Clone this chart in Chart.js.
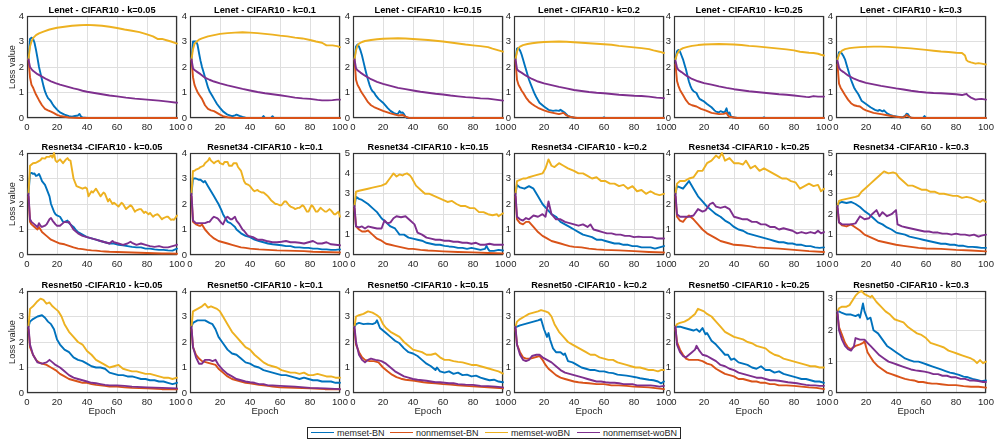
<!DOCTYPE html>
<html><head><meta charset="utf-8">
<script src="https://cdn.jsdelivr.net/npm/chart.js@4/dist/chart.umd.min.js"></script>
<style>
html,body{margin:0;padding:0;background:#fff;width:1001px;height:445px;overflow:hidden;}
#wrap{position:relative;width:1001px;height:445px;}
#wrap canvas{position:absolute;}
#legend{position:absolute;left:307px;top:427px;width:372px;height:10px;border:1px solid #262626;background:#fff;font-family:'Liberation Sans',Arial,sans-serif;font-size:9px;color:#262626;}
.li{position:absolute;top:0;height:10px;line-height:10px;white-space:nowrap;}
.sw{display:inline-block;width:23px;height:0;border-top:1.8px solid;vertical-align:middle;margin-right:3px;position:relative;top:-1px;}
</style></head><body>
<div id="wrap"><div id="legend"></div></div>
<script>
// ---------- series names / colors ----------
const SERIES_NAMES = ['memset-BN','nonmemset-BN','memset-woBN','nonmemset-woBN'];
const COLORS = ['#0072BD','#D95319','#EDB120','#7E2F8E'];
const K_LABELS = ['0.05','0.1','0.15','0.2','0.25','0.3'];
const ROW_TITLES = ['Lenet - CIFAR10 - k=','Resnet34 -CIFAR10 - k=','Resnet50 -CIFAR10 - k='];
const Y_MAX = [4,4,4,4,4,4, 4,4,5,4,4,5, 4,4,4,4,4,3.25];
const X_TICK_STEP = 20;

// ---------- Lenet ----------
const len005_mBN=[[1,2.3],[2,3.1],[3,3.15],[4,3.12],[5,2.95],[6,2.67],[7,2.35],[8,2.0],[9,1.75],[10,1.5],[11,1.25],[12,1.04],[13,0.9],[14,0.78],[15,0.72],[16,0.65],[17,0.55],[18,0.46],[19,0.4],[20,0.33],[22,0.22],[25,0.13],[28,0.07],[30,0.05],[32,0.08],[34,0.1],[35,0.16],[36,0.06],[37,0.02],[40,0],[100,0]];
const len005_nBN=[[1,2.3],[2,1.6],[3,1.3],[4,1.2],[5,1.05],[6,0.92],[8,0.7],[10,0.5],[12,0.36],[14,0.3],[16,0.25],[18,0.19],[20,0.12],[22,0.08],[25,0.05],[28,0.02],[31,0.01],[35,0],[100,0]];
const len005_mWo=[[1,2.3],[2,2.8],[3,3.0],[4,3.13],[6,3.25],[8,3.32],[11,3.39],[15,3.47],[20,3.54],[25,3.58],[30,3.62],[35,3.64],[40,3.65],[45,3.64],[50,3.62],[55,3.58],[60,3.53],[65,3.47],[70,3.42],[75,3.37],[80,3.28],[84,3.2],[87,3.1],[90,3.1],[93,3.05],[96,3.0],[100,2.92]];
const len005_nWo=[[1,2.3],[2,2.0],[3,1.92],[4,1.85],[7,1.72],[10,1.62],[13,1.52],[16,1.44],[19,1.37],[22,1.31],[25,1.26],[28,1.21],[31,1.16],[34,1.12],[37,1.07],[40,1.03],[45,0.98],[50,0.93],[55,0.88],[60,0.85],[66,0.8],[72,0.76],[80,0.72],[88,0.68],[94,0.64],[100,0.6]];

const len01_mBN=[[1,2.3],[2,3.0],[3,3.0],[4,3.0],[5,2.88],[6,2.55],[7,2.25],[8,2.0],[9,1.8],[10,1.6],[11,1.4],[12,1.2],[13,1.05],[14,0.95],[15,0.85],[16,0.75],[18,0.55],[20,0.4],[22,0.26],[25,0.13],[28,0.07],[30,0.1],[31,0.13],[33,0.08],[35,0.04],[37,0.01],[40,0],[48,0],[49,0.08],[50,0],[54,0],[55,0.07],[56,0],[100,0]];
const len01_nBN=[[1,2.3],[2,1.6],[3,1.3],[4,1.15],[5,1.02],[6,0.92],[8,0.75],[10,0.5],[12,0.36],[14,0.3],[16,0.27],[18,0.2],[20,0.13],[22,0.07],[25,0.03],[28,0.01],[32,0],[100,0]];
const len01_mWo=[[1,2.3],[2,2.7],[3,2.9],[4,2.98],[6,3.07],[8,3.12],[12,3.2],[16,3.25],[20,3.3],[25,3.33],[30,3.35],[35,3.36],[40,3.35],[45,3.33],[50,3.3],[55,3.27],[60,3.23],[65,3.2],[70,3.15],[75,3.12],[80,3.06],[84,3.0],[88,2.95],[91,2.85],[95,2.85],[98,2.82],[100,2.78]];
const len01_nWo=[[1,2.3],[2,1.95],[3,1.88],[5,1.8],[7,1.72],[10,1.58],[13,1.5],[16,1.43],[20,1.36],[25,1.28],[30,1.21],[35,1.14],[40,1.08],[45,1.02],[50,0.97],[55,0.93],[60,0.89],[65,0.85],[70,0.8],[75,0.77],[80,0.75],[85,0.71],[88,0.69],[92,0.69],[95,0.7],[98,0.72],[100,0.72]];

const len015_mBN=[[1,2.3],[2,2.8],[3,2.88],[4,2.8],[5,2.65],[6,2.45],[7,2.2],[8,1.95],[9,1.72],[10,1.5],[11,1.3],[12,1.15],[13,1.05],[14,1.0],[15,0.9],[17,0.75],[20,0.6],[23,0.4],[25,0.28],[27,0.2],[29,0.15],[30,0.17],[31,0.27],[32,0.2],[33,0.22],[34,0.15],[35,0.05],[36,0],[79,0],[80,0.02],[81,0],[100,0]];
const len015_nBN=[[1,2.3],[2,1.5],[3,1.3],[4,1.2],[5,1.08],[6,0.98],[8,0.8],[10,0.62],[12,0.5],[14,0.43],[16,0.38],[18,0.33],[20,0.28],[22,0.24],[25,0.18],[28,0.13],[30,0.1],[33,0.12],[35,0.05],[37,0.01],[40,0],[100,0]];
const len015_mWo=[[1,2.3],[2,2.65],[3,2.85],[4,2.92],[6,2.98],[8,3.02],[12,3.06],[16,3.09],[20,3.11],[25,3.12],[30,3.13],[35,3.12],[40,3.1],[45,3.08],[50,3.06],[55,3.03],[60,3.0],[65,2.96],[70,2.92],[75,2.88],[80,2.85],[85,2.82],[90,2.78],[93,2.72],[97,2.65],[100,2.6]];
const len015_nWo=[[1,2.3],[2,1.95],[3,1.87],[5,1.78],[8,1.66],[12,1.52],[16,1.42],[20,1.34],[25,1.26],[30,1.18],[35,1.13],[40,1.08],[45,1.03],[50,0.99],[55,0.95],[60,0.92],[65,0.88],[70,0.85],[75,0.82],[80,0.8],[85,0.77],[90,0.76],[95,0.72],[100,0.68]];

const len02_mBN=[[1,2.3],[2,2.72],[3,2.75],[4,2.65],[5,2.5],[6,2.3],[7,2.1],[8,1.9],[9,1.7],[10,1.5],[11,1.35],[12,1.2],[13,1.05],[14,0.92],[15,0.8],[17,0.6],[20,0.45],[23,0.32],[26,0.28],[28,0.3],[30,0.28],[31,0.32],[32,0.28],[34,0.2],[36,0.08],[38,0.04],[40,0.01],[42,0],[59,0],[60,0.03],[61,0],[100,0]];
const len02_nBN=[[1,2.25],[2,1.5],[3,1.3],[4,1.2],[5,1.08],[6,1.0],[8,0.8],[10,0.65],[12,0.55],[14,0.47],[16,0.4],[18,0.35],[20,0.3],[23,0.24],[26,0.2],[30,0.15],[33,0.2],[35,0.1],[37,0.05],[40,0.02],[42,0],[100,0]];
const len02_mWo=[[1,2.3],[2,2.6],[3,2.75],[4,2.8],[6,2.86],[9,2.9],[12,2.93],[16,2.96],[20,2.98],[25,2.99],[30,3.0],[35,2.99],[40,2.97],[45,2.95],[50,2.93],[55,2.91],[60,2.89],[65,2.87],[70,2.83],[75,2.8],[80,2.77],[85,2.74],[90,2.7],[93,2.65],[97,2.6],[100,2.55]];
const len02_nWo=[[1,2.3],[2,1.92],[3,1.85],[5,1.78],[8,1.66],[12,1.53],[16,1.43],[20,1.36],[25,1.29],[30,1.22],[35,1.16],[40,1.1],[45,1.06],[50,1.02],[55,0.99],[60,0.97],[65,0.94],[70,0.91],[75,0.89],[80,0.87],[85,0.86],[90,0.84],[95,0.8],[100,0.78]];

const len025_mBN=[[1,2.3],[2,2.62],[3,2.67],[4,2.6],[5,2.45],[6,2.3],[7,2.1],[8,1.9],[9,1.65],[10,1.42],[11,1.25],[12,1.12],[13,1.05],[15,0.98],[16,0.85],[17,0.75],[19,0.68],[20,0.65],[22,0.55],[25,0.42],[27,0.3],[28,0.25],[30,0.22],[31,0.27],[33,0.22],[34,0.25],[35,0.38],[36,0.15],[37,0.22],[38,0.05],[40,0.02],[42,0],[59,0],[60,0.03],[61,0],[100,0]];
const len025_nBN=[[1,2.1],[2,1.45],[3,1.25],[4,1.1],[5,1.0],[6,0.9],[8,0.7],[10,0.55],[12,0.5],[15,0.45],[18,0.36],[21,0.3],[25,0.2],[30,0.15],[33,0.16],[35,0.2],[36,0.1],[37,0.05],[40,0.02],[42,0],[100,0]];
const len025_mWo=[[1,2.3],[2,2.5],[3,2.6],[4,2.67],[6,2.74],[9,2.79],[12,2.83],[16,2.86],[20,2.88],[25,2.89],[30,2.9],[35,2.89],[40,2.88],[45,2.86],[50,2.83],[55,2.81],[60,2.78],[65,2.75],[70,2.72],[75,2.69],[80,2.65],[84,2.6],[87,2.58],[90,2.56],[93,2.55],[96,2.52],[98,2.48],[100,2.45]];
const len025_nWo=[[1,2.25],[2,1.97],[3,1.88],[5,1.8],[8,1.67],[12,1.53],[16,1.44],[20,1.37],[25,1.31],[30,1.24],[35,1.18],[40,1.13],[45,1.09],[50,1.05],[55,1.02],[60,0.99],[65,0.96],[70,0.93],[75,0.91],[80,0.88],[85,0.85],[88,0.83],[90,0.82],[93,0.86],[96,0.84],[100,0.84]];

const len03_mBN=[[1,2.3],[2,2.58],[3,2.58],[4,2.52],[5,2.42],[6,2.3],[7,2.1],[8,1.9],[9,1.7],[10,1.5],[11,1.35],[12,1.2],[13,1.1],[15,0.92],[17,0.68],[20,0.55],[23,0.42],[26,0.32],[28,0.28],[29,0.32],[31,0.26],[32,0.3],[34,0.18],[36,0.12],[38,0.08],[41,0.05],[44,0.02],[46,0.08],[47,0.17],[48,0.15],[49,0.05],[50,0.01],[52,0],[58,0],[59,0.08],[60,0],[100,0]];
const len03_nBN=[[1,2.1],[2,1.35],[3,1.2],[4,1.1],[5,1.0],[6,0.9],[8,0.72],[10,0.58],[12,0.5],[14,0.47],[16,0.45],[18,0.36],[20,0.3],[25,0.2],[30,0.15],[35,0.1],[40,0.05],[45,0.02],[46,0.06],[47,0.12],[48,0.08],[50,0.01],[52,0],[100,0]];
const len03_mWo=[[1,2.3],[2,2.48],[3,2.58],[4,2.64],[6,2.7],[9,2.74],[12,2.76],[16,2.78],[20,2.79],[25,2.8],[30,2.8],[35,2.79],[40,2.77],[45,2.75],[50,2.73],[55,2.7],[60,2.67],[65,2.64],[70,2.61],[75,2.59],[80,2.56],[84,2.55],[85,2.5],[86,2.45],[87,2.27],[88,2.22],[90,2.18],[93,2.13],[95,2.15],[97,2.13],[100,2.1]];
const len03_nWo=[[1,2.25],[2,1.97],[3,1.88],[5,1.8],[8,1.67],[12,1.54],[16,1.45],[20,1.38],[25,1.32],[30,1.26],[35,1.21],[40,1.16],[45,1.12],[50,1.07],[55,1.03],[60,1.0],[65,0.98],[70,0.97],[75,0.95],[80,0.93],[84,0.9],[86,0.93],[87,0.95],[88,0.88],[90,0.8],[93,0.72],[95,0.74],[97,0.75],[100,0.72]];

// ---------- Resnet34 ----------
const r34_005_mBN=[[1,2.4],[2,3.2],[3,3.22],[4,3.18],[5,3.2],[6,3.1],[7,3.12],[8,3.18],[9,3.05],[10,2.9],[12,2.75],[13,2.6],[15,2.3],[16,2.0],[18,1.7],[19,1.6],[20,1.55],[22,1.5],[24,1.3],[25,1.3],[27,1.35],[28,1.25],[30,1.15],[31,1.1],[33,0.95],[34,0.9],[37,0.8],[40,0.7],[43,0.65],[46,0.6],[49,0.55],[52,0.5],[55,0.45],[58,0.45],[61,0.4],[64,0.38],[67,0.35],[70,0.32],[73,0.3],[76,0.3],[79,0.25],[82,0.25],[85,0.22],[88,0.2],[91,0.2],[94,0.18],[97,0.17],[100,0.25]];
const r34_005_nBN=[[1,2.3],[2,1.3],[3,1.2],[5,1.1],[7,1.0],[8,1.1],[10,0.9],[13,0.75],[16,0.6],[19,0.52],[22,0.45],[25,0.42],[28,0.36],[31,0.3],[34,0.25],[37,0.23],[40,0.2],[43,0.18],[46,0.17],[49,0.15],[52,0.14],[55,0.13],[60,0.12],[65,0.11],[70,0.1],[75,0.09],[80,0.08],[85,0.07],[90,0.06],[95,0.06],[100,0.05]];
const r34_005_mWo=[[1,2.4],[2,3.5],[3,3.55],[4,3.6],[6,3.62],[7,3.65],[9,3.72],[10,3.8],[12,3.78],[13,3.85],[15,3.85],[16,3.9],[17,3.82],[18,4.0],[19,3.7],[20,3.65],[22,3.75],[24,3.6],[26,3.75],[27,3.8],[28,3.72],[29,3.7],[31,3.0],[33,2.7],[35,2.65],[37,2.6],[39,2.65],[40,2.6],[41,2.3],[43,2.5],[44,2.45],[46,2.6],[48,2.4],[49,2.3],[51,2.45],[52,2.4],[54,2.1],[55,2.2],[57,2.0],[58,2.05],[60,1.95],[61,1.9],[63,2.05],[64,2.0],[66,1.8],[67,1.85],[69,1.95],[70,1.9],[72,1.7],[73,1.75],[75,1.8],[76,1.8],[78,1.65],[79,1.7],[81,1.6],[82,1.65],[84,1.5],[85,1.55],[87,1.6],[88,1.55],[90,1.4],[91,1.45],[93,1.5],[94,1.5],[96,1.38],[97,1.4],[98,1.38],[100,1.55]];
const r34_005_nWo=[[1,2.4],[2,1.4],[3,1.3],[5,1.2],[6,1.15],[7,1.1],[8,1.25],[9,1.15],[10,1.1],[12,1.15],[13,1.2],[15,1.4],[16,1.45],[17,1.35],[19,1.2],[20,1.15],[22,1.15],[24,1.25],[25,1.3],[27,1.28],[28,1.3],[29,1.2],[31,1.0],[33,0.9],[34,0.85],[37,0.75],[40,0.7],[43,0.65],[46,0.6],[49,0.55],[52,0.5],[55,0.45],[57,0.55],[58,0.5],[61,0.45],[64,0.4],[67,0.45],[69,0.52],[70,0.48],[73,0.4],[76,0.45],[79,0.4],[82,0.35],[85,0.32],[88,0.35],[91,0.3],[94,0.3],[97,0.35],[100,0.4]];

const r34_01_mBN=[[1,2.4],[2,3.0],[4,3.0],[6,2.95],[7,2.95],[9,2.85],[10,2.9],[12,2.7],[13,2.6],[15,2.4],[16,2.3],[18,2.1],[19,2.0],[21,1.75],[22,1.6],[24,1.4],[25,1.3],[27,1.25],[28,1.2],[30,1.1],[31,1.0],[33,0.9],[34,0.85],[37,0.75],[40,0.7],[43,0.6],[46,0.55],[49,0.5],[52,0.45],[55,0.42],[58,0.4],[61,0.38],[64,0.35],[67,0.35],[70,0.3],[73,0.3],[76,0.28],[79,0.28],[82,0.25],[85,0.25],[88,0.22],[91,0.22],[94,0.2],[97,0.2],[100,0.22]];
const r34_01_nBN=[[1,2.3],[2,1.3],[4,1.2],[6,1.15],[7,1.15],[8,1.2],[10,1.0],[13,0.8],[16,0.65],[19,0.55],[22,0.5],[25,0.45],[28,0.4],[31,0.35],[34,0.3],[37,0.28],[40,0.25],[46,0.22],[52,0.2],[58,0.18],[64,0.17],[70,0.16],[76,0.15],[82,0.13],[88,0.12],[94,0.11],[100,0.1]];
const r34_01_mWo=[[1,2.4],[2,3.3],[3,3.3],[4,3.35],[6,3.4],[7,3.45],[9,3.5],[10,3.6],[12,3.7],[13,3.8],[14,3.7],[16,3.6],[17,3.65],[19,3.7],[20,3.6],[22,3.55],[23,3.65],[25,3.65],[26,3.5],[28,3.5],[29,3.6],[31,3.6],[32,3.45],[34,3.3],[36,2.9],[37,2.8],[39,2.75],[40,2.7],[42,2.55],[43,2.5],[45,2.55],[46,2.5],[48,2.45],[49,2.45],[51,2.35],[52,2.3],[54,2.15],[55,2.1],[57,2.0],[58,2.0],[60,1.95],[61,1.95],[63,2.1],[64,2.1],[66,1.95],[67,1.9],[69,1.85],[70,1.8],[72,1.85],[73,1.85],[75,1.95],[76,1.9],[78,1.7],[79,1.7],[81,1.95],[82,1.9],[84,1.7],[85,1.7],[87,1.85],[88,1.8],[90,1.7],[91,1.7],[93,1.8],[94,1.75],[96,1.6],[97,1.6],[99,1.7],[100,1.5]];
const r34_01_nWo=[[1,2.4],[2,1.35],[4,1.25],[6,1.25],[7,1.25],[9,1.25],[10,1.25],[12,1.3],[13,1.3],[15,1.45],[16,1.5],[18,1.45],[19,1.4],[21,1.25],[22,1.2],[24,1.45],[25,1.5],[27,1.4],[28,1.4],[30,1.5],[31,1.35],[33,1.2],[35,1.0],[36,0.95],[38,0.8],[39,0.75],[42,0.7],[45,0.6],[48,0.6],[51,0.55],[55,0.5],[58,0.5],[61,0.52],[64,0.55],[67,0.5],[70,0.5],[73,0.48],[76,0.45],[79,0.5],[82,0.55],[85,0.45],[88,0.45],[91,0.5],[94,0.42],[97,0.4],[100,0.38]];

const r34_015_mBN=[[1,2.4],[2,2.85],[4,2.75],[6,2.7],[8,2.6],[10,2.5],[13,2.3],[16,2.1],[19,1.8],[22,1.6],[25,1.4],[28,1.3],[30,1.1],[31,1.0],[34,1.0],[37,0.85],[40,0.8],[43,0.75],[46,0.7],[49,0.6],[52,0.55],[55,0.5],[58,0.5],[61,0.45],[64,0.42],[67,0.4],[70,0.35],[73,0.35],[76,0.3],[79,0.35],[82,0.3],[85,0.25],[88,0.3],[89,0.45],[90,0.3],[91,0.2],[94,0.2],[97,0.25],[100,0.22]];
const r34_015_nBN=[[1,2.3],[2,1.4],[4,1.25],[6,1.15],[8,1.15],[10,1.2],[13,1.0],[16,0.8],[19,0.7],[22,0.55],[25,0.5],[28,0.45],[31,0.4],[34,0.35],[37,0.3],[40,0.3],[45,0.25],[50,0.22],[55,0.2],[60,0.18],[70,0.15],[80,0.13],[90,0.1],[100,0.08]];
const r34_015_mWo=[[1,2.4],[2,3.1],[4,3.15],[7,3.2],[10,3.25],[13,3.3],[16,3.35],[19,3.4],[22,3.5],[24,3.7],[25,3.8],[27,4.0],[29,3.85],[31,3.95],[33,3.9],[34,3.95],[36,4.0],[38,3.9],[39,3.8],[42,3.4],[45,3.2],[48,3.0],[51,3.0],[54,2.9],[57,2.8],[60,2.7],[63,2.6],[66,2.65],[69,2.5],[72,2.4],[75,2.4],[78,2.3],[81,2.3],[84,2.1],[87,2.1],[90,2.0],[93,1.95],[96,2.0],[97,1.9],[100,2.05]];
const r34_015_nWo=[[1,2.4],[2,1.4],[4,1.35],[6,1.4],[8,1.3],[10,1.4],[13,1.35],[16,1.3],[19,1.3],[21,1.7],[23,1.55],[25,1.6],[27,1.8],[29,1.9],[32,1.85],[35,1.9],[38,1.7],[41,1.5],[43,1.1],[46,1.0],[49,0.85],[52,0.8],[55,0.75],[58,0.75],[61,0.7],[64,0.7],[67,0.65],[70,0.65],[73,0.6],[76,0.6],[79,0.55],[82,0.6],[85,0.5],[88,0.5],[91,0.55],[94,0.5],[97,0.5],[100,0.5]];

const r34_02_mBN=[[1,2.4],[2,2.75],[4,2.65],[7,2.6],[10,2.7],[13,2.6],[16,2.3],[19,2.0],[22,1.8],[25,1.6],[28,1.5],[31,1.3],[34,1.2],[37,1.1],[40,1.0],[43,0.9],[46,0.8],[49,0.75],[52,0.7],[55,0.6],[58,0.6],[61,0.55],[64,0.5],[67,0.45],[70,0.45],[73,0.4],[76,0.4],[79,0.35],[82,0.35],[85,0.3],[88,0.3],[91,0.3],[94,0.25],[97,0.3],[100,0.35]];
const r34_02_nBN=[[1,2.3],[2,1.4],[4,1.25],[6,1.2],[8,1.3],[10,1.3],[13,1.1],[16,0.9],[19,0.75],[22,0.65],[25,0.55],[28,0.5],[31,0.45],[34,0.4],[37,0.35],[40,0.32],[45,0.3],[50,0.25],[55,0.22],[60,0.2],[70,0.18],[80,0.15],[90,0.12],[100,0.1]];
const r34_02_mWo=[[1,2.4],[2,2.9],[4,2.95],[6,3.0],[8,3.0],[10,3.05],[13,3.1],[16,3.15],[19,3.2],[21,3.4],[23,3.75],[25,3.5],[27,3.45],[30,3.6],[33,3.5],[36,3.4],[38,3.35],[40,3.3],[43,3.2],[46,3.2],[49,3.1],[52,3.0],[55,3.05],[58,2.9],[61,2.9],[64,2.8],[67,2.8],[70,2.7],[73,2.75],[76,2.6],[79,2.7],[82,2.5],[85,2.55],[88,2.4],[91,2.5],[94,2.4],[97,2.35],[100,2.4]];
const r34_02_nWo=[[1,2.4],[2,1.5],[4,1.4],[6,1.35],[8,1.45],[10,1.4],[13,1.55],[16,1.5],[19,1.6],[21,1.5],[23,2.1],[25,1.6],[28,1.4],[31,1.4],[34,1.3],[37,1.25],[40,1.2],[43,1.15],[46,1.2],[49,1.1],[51,1.2],[53,1.0],[56,0.95],[59,0.9],[62,0.85],[65,0.85],[68,0.8],[71,0.8],[74,0.75],[77,0.75],[80,0.7],[83,0.72],[86,0.7],[89,0.7],[92,0.7],[95,0.65],[98,0.65],[100,0.65]];

const r34_025_mBN=[[1,2.4],[2,2.7],[4,2.65],[6,2.6],[8,2.75],[10,2.9],[13,2.6],[16,2.3],[19,2.1],[22,1.9],[25,1.75],[28,1.6],[31,1.5],[34,1.35],[37,1.25],[40,1.1],[43,1.0],[46,0.95],[49,0.85],[52,0.8],[55,0.75],[58,0.7],[61,0.65],[64,0.6],[67,0.55],[70,0.5],[73,0.5],[76,0.45],[79,0.45],[82,0.4],[85,0.4],[88,0.35],[91,0.35],[94,0.3],[97,0.28],[100,0.3]];
const r34_025_nBN=[[1,2.3],[2,1.5],[4,1.35],[6,1.3],[8,1.45],[10,1.55],[13,1.4],[16,1.2],[19,1.0],[22,0.85],[25,0.75],[28,0.65],[31,0.55],[34,0.5],[37,0.45],[40,0.4],[45,0.38],[50,0.35],[55,0.3],[60,0.28],[70,0.25],[80,0.2],[90,0.15],[100,0.12]];
const r34_025_mWo=[[1,2.4],[2,2.8],[4,2.9],[7,2.9],[10,3.0],[13,3.05],[16,3.3],[19,3.3],[22,3.6],[25,3.7],[28,3.9],[30,3.8],[32,4.0],[34,3.7],[37,3.8],[40,3.6],[43,3.6],[46,3.55],[48,3.7],[51,3.4],[54,3.5],[57,3.3],[60,3.4],[63,3.3],[66,3.2],[69,3.1],[72,3.0],[75,3.0],[78,2.9],[81,2.85],[84,2.6],[87,2.7],[90,2.8],[93,2.7],[96,2.75],[98,2.5],[100,2.6]];
const r34_025_nWo=[[1,2.4],[2,1.6],[4,1.5],[7,1.5],[10,1.5],[13,1.55],[16,1.8],[19,1.7],[21,1.75],[24,2.0],[26,2.05],[28,1.9],[31,1.85],[34,1.9],[37,1.8],[40,1.5],[43,1.45],[46,1.4],[49,1.4],[52,1.3],[55,1.3],[58,1.2],[61,1.2],[64,1.1],[67,1.1],[70,1.0],[73,1.05],[76,1.0],[79,0.95],[82,0.85],[85,0.9],[88,0.85],[91,0.9],[94,0.85],[96,0.95],[98,0.85],[100,0.9]];

const r34_03_mBN=[[1,2.4],[2,2.55],[4,2.6],[7,2.55],[10,2.6],[13,2.5],[16,2.35],[19,2.15],[22,2.0],[25,1.8],[28,1.6],[31,1.5],[34,1.35],[37,1.25],[40,1.1],[43,1.05],[46,1.0],[49,0.9],[52,0.85],[55,0.8],[58,0.75],[61,0.7],[64,0.65],[67,0.6],[70,0.55],[73,0.55],[76,0.5],[79,0.5],[82,0.45],[85,0.45],[88,0.4],[91,0.4],[94,0.38],[97,0.35],[100,0.35]];
const r34_03_nBN=[[1,2.3],[2,1.6],[4,1.45],[7,1.4],[10,1.5],[13,1.35],[16,1.2],[19,1.0],[22,0.9],[25,0.8],[28,0.7],[31,0.65],[34,0.6],[37,0.55],[40,0.5],[45,0.45],[50,0.4],[55,0.35],[60,0.32],[70,0.3],[80,0.25],[90,0.22],[100,0.18]];
const r34_03_mWo=[[1,2.4],[2,2.65],[4,2.7],[7,2.75],[10,2.8],[13,2.85],[15,2.9],[17,3.1],[20,3.3],[23,3.5],[26,3.7],[29,3.9],[32,4.1],[35,4.0],[38,4.05],[40,4.0],[42,3.8],[45,3.6],[48,3.4],[51,3.4],[54,3.3],[57,3.2],[60,3.2],[63,3.1],[66,3.1],[69,3.0],[72,3.0],[75,2.95],[78,2.9],[81,2.9],[84,2.8],[87,2.85],[90,2.8],[93,2.7],[96,2.6],[98,2.7],[100,2.6]];
const r34_03_nWo=[[1,2.4],[2,1.6],[4,1.5],[7,1.5],[10,1.5],[13,1.55],[16,1.9],[19,1.75],[22,1.8],[24,2.0],[27,2.2],[29,1.9],[31,2.1],[34,1.9],[37,2.0],[40,2.2],[41,1.5],[44,1.4],[47,1.35],[50,1.3],[53,1.25],[56,1.2],[59,1.15],[62,1.15],[65,1.1],[68,1.1],[71,1.05],[74,1.05],[77,1.0],[80,1.05],[83,1.0],[86,1.0],[89,0.95],[92,1.0],[95,0.9],[97,0.95],[100,1.0]];

// ---------- Resnet50 ----------
const r50_005_mBN=[[1,2.6],[2,2.8],[4,2.9],[7,3.0],[10,3.05],[12,2.95],[14,2.8],[16,2.7],[18,2.5],[20,2.1],[22,1.9],[25,1.7],[28,1.6],[31,1.4],[34,1.3],[37,1.25],[40,1.15],[43,1.05],[46,1.0],[49,1.0],[52,0.95],[55,0.8],[58,0.75],[61,0.7],[64,0.7],[67,0.65],[70,0.65],[73,0.6],[76,0.55],[79,0.55],[82,0.5],[85,0.5],[88,0.45],[91,0.45],[94,0.4],[97,0.35],[100,0.4]];
const r50_005_nBN=[[1,2.5],[2,1.8],[4,1.5],[6,1.3],[8,1.2],[10,1.15],[13,1.1],[16,1.0],[19,0.9],[22,0.75],[25,0.65],[28,0.55],[31,0.5],[34,0.45],[37,0.4],[40,0.4],[43,0.35],[46,0.32],[49,0.3],[52,0.28],[55,0.25],[60,0.25],[65,0.22],[70,0.2],[80,0.18],[90,0.15],[100,0.15]];
const r50_005_mWo=[[1,2.6],[2,3.3],[4,3.4],[7,3.6],[9,3.7],[11,3.65],[13,3.5],[15,3.55],[17,3.4],[19,3.3],[21,3.2],[23,3.0],[25,2.7],[28,2.4],[31,2.2],[34,2.0],[37,1.9],[40,1.65],[43,1.5],[46,1.3],[49,1.2],[52,1.1],[55,1.0],[58,1.05],[61,1.1],[64,0.95],[67,0.9],[70,0.85],[73,0.85],[76,0.8],[79,0.75],[82,0.75],[85,0.7],[88,0.65],[91,0.6],[94,0.6],[97,0.55],[100,0.6]];
const r50_005_nWo=[[1,2.6],[2,1.9],[4,1.5],[7,1.2],[10,1.15],[13,1.2],[15,1.3],[17,1.2],[19,1.1],[22,1.0],[25,0.85],[28,0.7],[31,0.6],[34,0.55],[37,0.5],[40,0.45],[43,0.4],[46,0.38],[49,0.35],[52,0.32],[55,0.3],[60,0.3],[65,0.28],[70,0.25],[80,0.22],[90,0.2],[100,0.18]];

const r50_01_mBN=[[1,2.6],[2,2.75],[5,2.85],[8,2.85],[10,2.85],[13,2.75],[15,2.7],[17,2.5],[19,2.2],[22,1.95],[25,1.7],[28,1.55],[31,1.5],[34,1.35],[37,1.2],[40,1.15],[43,1.05],[46,1.0],[49,0.9],[52,0.85],[55,0.8],[58,0.75],[61,0.7],[64,0.7],[67,0.65],[70,0.6],[73,0.55],[76,0.6],[79,0.55],[82,0.5],[85,0.5],[88,0.45],[91,0.45],[94,0.45],[97,0.4],[100,0.4]];
const r50_01_nBN=[[1,2.5],[2,1.8],[4,1.5],[6,1.35],[8,1.25],[11,1.2],[14,1.15],[17,1.1],[19,0.95],[22,0.8],[25,0.65],[28,0.55],[31,0.5],[34,0.45],[37,0.4],[40,0.38],[43,0.35],[46,0.32],[49,0.3],[52,0.28],[55,0.25],[60,0.22],[70,0.2],[80,0.18],[90,0.15],[100,0.15]];
const r50_01_mWo=[[1,2.6],[2,3.2],[5,3.3],[8,3.4],[10,3.5],[12,3.35],[14,3.4],[16,3.35],[18,3.3],[20,3.2],[22,3.0],[25,2.7],[28,2.4],[31,2.2],[34,2.0],[37,1.8],[40,1.7],[43,1.5],[46,1.35],[49,1.2],[52,1.1],[55,1.05],[58,1.0],[61,0.9],[64,0.85],[67,0.8],[70,0.8],[73,0.75],[76,0.8],[79,0.7],[82,0.7],[85,0.75],[88,0.7],[91,0.65],[94,0.65],[97,0.6],[100,0.6]];
const r50_01_nWo=[[1,2.6],[2,1.8],[4,1.4],[6,1.15],[8,1.15],[10,1.3],[13,1.3],[15,1.25],[17,1.3],[19,1.1],[22,0.9],[25,0.75],[28,0.65],[31,0.55],[34,0.5],[37,0.45],[40,0.42],[43,0.4],[46,0.35],[49,0.35],[52,0.3],[55,0.3],[60,0.28],[70,0.25],[80,0.2],[90,0.18],[100,0.15]];

const r50_015_mBN=[[1,2.6],[2,2.7],[4,2.75],[7,2.7],[10,2.72],[13,2.7],[15,2.75],[16,2.85],[18,2.55],[20,2.45],[22,2.35],[25,2.2],[28,2.05],[31,1.95],[34,1.75],[37,1.6],[40,1.55],[43,1.45],[46,1.3],[49,1.15],[52,1.05],[55,0.9],[56,1.0],[58,0.85],[61,0.8],[64,0.85],[67,0.75],[70,0.8],[73,0.7],[76,0.72],[79,0.65],[82,0.68],[85,0.6],[88,0.55],[91,0.5],[94,0.52],[97,0.45],[100,0.42]];
const r50_015_nBN=[[1,2.5],[2,1.9],[4,1.6],[6,1.4],[8,1.3],[11,1.25],[14,1.25],[17,1.2],[20,1.0],[23,0.85],[26,0.72],[29,0.62],[32,0.56],[35,0.52],[38,0.5],[41,0.48],[44,0.45],[47,0.42],[50,0.4],[55,0.38],[60,0.35],[65,0.33],[70,0.3],[75,0.28],[80,0.26],[85,0.24],[90,0.22],[95,0.2],[100,0.18]];
const r50_015_mWo=[[1,2.6],[2,3.0],[4,3.05],[7,3.1],[10,3.2],[13,3.15],[16,3.05],[18,2.95],[20,2.7],[22,2.55],[25,2.4],[28,2.3],[31,2.2],[34,2.0],[37,1.85],[40,1.7],[43,1.65],[46,1.6],[49,1.5],[52,1.5],[55,1.55],[58,1.4],[61,1.3],[64,1.3],[67,1.25],[70,1.22],[73,1.2],[76,1.15],[79,1.1],[82,1.1],[85,1.05],[88,1.0],[91,0.95],[94,0.9],[97,0.85],[100,0.76]];
const r50_015_nWo=[[1,2.6],[2,2.0],[4,1.5],[6,1.3],[8,1.2],[10,1.3],[12,1.35],[15,1.3],[17,1.28],[19,1.25],[22,1.15],[25,1.0],[28,0.85],[31,0.75],[34,0.65],[37,0.6],[40,0.55],[43,0.52],[46,0.5],[49,0.48],[52,0.45],[55,0.42],[58,0.42],[61,0.4],[64,0.38],[67,0.38],[70,0.35],[75,0.33],[80,0.32],[85,0.28],[90,0.27],[95,0.25],[100,0.22]];

const r50_02_mBN=[[1,2.6],[2,2.6],[4,2.65],[7,2.7],[10,2.75],[13,2.8],[16,2.85],[18,2.9],[20,2.5],[22,2.2],[23,2.35],[24,2.1],[26,1.75],[28,1.6],[31,1.6],[33,1.5],[34,1.55],[36,1.25],[39,1.2],[42,1.1],[45,1.0],[48,0.95],[51,0.9],[54,0.9],[57,0.85],[60,0.85],[63,0.8],[66,0.78],[69,0.72],[72,0.7],[75,0.68],[78,0.65],[81,0.62],[84,0.58],[87,0.55],[90,0.52],[93,0.5],[96,0.45],[98,0.38],[100,0.45]];
const r50_02_nBN=[[1,2.5],[2,1.9],[4,1.6],[6,1.4],[8,1.35],[11,1.35],[14,1.4],[17,1.45],[19,1.3],[21,1.1],[23,0.95],[25,0.85],[28,0.7],[31,0.6],[34,0.55],[37,0.5],[40,0.45],[43,0.42],[46,0.4],[50,0.38],[55,0.35],[60,0.35],[65,0.3],[70,0.3],[75,0.28],[80,0.25],[90,0.22],[100,0.15]];
const r50_02_mWo=[[1,2.6],[2,2.8],[4,2.9],[7,3.0],[10,3.1],[13,3.15],[16,3.2],[18,3.25],[21,3.2],[23,3.15],[25,3.0],[27,2.7],[30,2.4],[33,2.2],[36,2.0],[39,1.9],[42,1.8],[45,1.7],[48,1.6],[51,1.5],[54,1.5],[57,1.4],[60,1.35],[63,1.3],[66,1.3],[69,1.2],[72,1.15],[75,1.1],[78,1.05],[81,1.0],[84,1.0],[87,0.95],[90,0.9],[93,0.9],[96,0.85],[98,0.9],[100,0.9]];
const r50_02_nWo=[[1,2.6],[2,1.9],[4,1.5],[6,1.3],[8,1.25],[10,1.3],[12,1.45],[15,1.5],[17,1.5],[19,1.4],[22,1.3],[25,1.2],[28,1.05],[31,0.9],[34,0.8],[37,0.75],[40,0.7],[43,0.65],[46,0.6],[49,0.55],[52,0.5],[55,0.45],[58,0.45],[61,0.42],[64,0.4],[67,0.4],[70,0.38],[73,0.35],[76,0.35],[79,0.35],[82,0.3],[85,0.3],[88,0.3],[91,0.3],[94,0.28],[97,0.25],[100,0.28]];

const r50_025_mBN=[[1,2.6],[2,2.6],[4,2.6],[7,2.55],[10,2.5],[13,2.45],[15,2.5],[17,2.4],[19,2.55],[21,2.3],[22,2.35],[25,2.05],[28,1.9],[31,1.7],[34,1.5],[36,1.5],[38,1.3],[40,1.35],[43,1.2],[46,1.15],[49,1.1],[52,1.0],[55,0.95],[58,1.05],[61,0.9],[64,0.9],[67,0.8],[70,0.85],[73,0.75],[76,0.7],[79,0.65],[82,0.6],[85,0.55],[88,0.55],[91,0.5],[94,0.45],[97,0.45],[100,0.4]];
const r50_025_nBN=[[1,2.5],[2,2.0],[4,1.7],[6,1.5],[8,1.35],[10,1.3],[13,1.3],[16,1.3],[19,1.25],[22,1.15],[25,1.1],[28,0.95],[31,0.85],[34,0.75],[37,0.7],[40,0.65],[43,0.55],[46,0.55],[49,0.5],[52,0.45],[55,0.45],[58,0.4],[61,0.4],[64,0.35],[67,0.35],[70,0.3],[75,0.3],[80,0.28],[85,0.25],[90,0.22],[95,0.2],[100,0.15]];
const r50_025_mWo=[[1,2.6],[2,2.7],[4,2.75],[7,2.8],[10,2.9],[12,3.0],[14,3.1],[16,3.3],[18,3.25],[20,3.2],[22,3.1],[25,3.0],[28,2.8],[31,2.6],[34,2.4],[37,2.3],[40,2.2],[43,2.15],[46,2.1],[49,2.0],[52,1.95],[55,1.85],[58,1.8],[61,1.75],[64,1.6],[67,1.5],[70,1.45],[73,1.35],[76,1.3],[79,1.25],[82,1.2],[85,1.15],[88,1.1],[91,1.05],[94,1.05],[97,1.0],[100,1.0]];
const r50_025_nWo=[[1,2.6],[2,1.9],[4,1.6],[6,1.45],[8,1.4],[10,1.5],[12,1.6],[14,1.7],[15,1.85],[17,1.65],[19,1.5],[22,1.45],[25,1.35],[28,1.25],[31,1.1],[34,1.05],[37,0.95],[40,0.9],[43,0.8],[46,0.75],[49,0.7],[52,0.65],[55,0.6],[58,0.6],[61,0.55],[64,0.5],[67,0.5],[70,0.48],[73,0.45],[76,0.42],[79,0.4],[82,0.38],[85,0.35],[88,0.32],[91,0.3],[94,0.3],[97,0.28],[100,0.28]];

const r50_03_mBN=[[1,2.6],[2,2.6],[4,2.55],[7,2.5],[10,2.5],[13,2.45],[15,2.5],[16,2.4],[18,2.85],[19,2.6],[21,2.35],[23,2.4],[25,2.0],[28,1.9],[31,1.7],[34,1.5],[37,1.4],[40,1.3],[43,1.2],[46,1.1],[49,1.05],[52,1.0],[55,1.0],[58,0.95],[61,0.9],[64,0.85],[67,0.8],[70,0.75],[73,0.7],[76,0.65],[79,0.62],[82,0.58],[85,0.52],[88,0.5],[91,0.45],[94,0.42],[97,0.38],[100,0.4]];
const r50_03_nBN=[[1,2.5],[2,2.1],[4,1.85],[6,1.6],[8,1.45],[10,1.4],[13,1.5],[16,1.55],[18,1.6],[19,1.65],[21,1.3],[23,1.15],[25,1.0],[28,0.85],[31,0.75],[34,0.65],[37,0.6],[40,0.55],[43,0.5],[46,0.45],[49,0.42],[52,0.4],[55,0.35],[58,0.35],[61,0.32],[64,0.3],[67,0.3],[70,0.28],[75,0.25],[80,0.25],[85,0.22],[90,0.2],[95,0.2],[100,0.17]];
const r50_03_mWo=[[1,2.6],[2,2.7],[4,2.75],[7,2.75],[9,2.8],[11,2.95],[13,3.1],[15,3.2],[17,3.25],[19,3.15],[21,3.1],[23,3.05],[24,3.1],[27,2.9],[30,2.75],[33,2.6],[36,2.5],[39,2.35],[42,2.3],[45,2.25],[48,2.1],[51,2.0],[54,1.9],[57,1.85],[60,1.75],[63,1.6],[66,1.55],[69,1.5],[72,1.45],[75,1.35],[78,1.3],[81,1.25],[84,1.2],[87,1.15],[90,1.1],[92,1.05],[94,0.95],[96,1.05],[98,0.95],[100,1.0]];
const r50_03_nWo=[[1,2.6],[2,2.0],[4,1.7],[6,1.5],[8,1.4],[10,1.35],[12,1.5],[13,1.75],[16,1.7],[19,1.7],[21,1.6],[23,1.5],[26,1.35],[29,1.2],[32,1.1],[35,1.0],[38,0.95],[41,0.9],[44,0.85],[47,0.8],[50,0.75],[53,0.72],[56,0.7],[59,0.68],[62,0.65],[65,0.6],[68,0.6],[71,0.55],[74,0.55],[77,0.5],[80,0.5],[83,0.45],[86,0.45],[89,0.4],[92,0.4],[95,0.38],[98,0.35],[100,0.35]];

// ---------- panel table (built from the arrays above) ----------
const PANELS = [
  [len005_mBN,len005_nBN,len005_mWo,len005_nWo],[len01_mBN,len01_nBN,len01_mWo,len01_nWo],
  [len015_mBN,len015_nBN,len015_mWo,len015_nWo],[len02_mBN,len02_nBN,len02_mWo,len02_nWo],
  [len025_mBN,len025_nBN,len025_mWo,len025_nWo],[len03_mBN,len03_nBN,len03_mWo,len03_nWo],
  [r34_005_mBN,r34_005_nBN,r34_005_mWo,r34_005_nWo],[r34_01_mBN,r34_01_nBN,r34_01_mWo,r34_01_nWo],
  [r34_015_mBN,r34_015_nBN,r34_015_mWo,r34_015_nWo],[r34_02_mBN,r34_02_nBN,r34_02_mWo,r34_02_nWo],
  [r34_025_mBN,r34_025_nBN,r34_025_mWo,r34_025_nWo],[r34_03_mBN,r34_03_nBN,r34_03_mWo,r34_03_nWo],
  [r50_005_mBN,r50_005_nBN,r50_005_mWo,r50_005_nWo],[r50_01_mBN,r50_01_nBN,r50_01_mWo,r50_01_nWo],
  [r50_015_mBN,r50_015_nBN,r50_015_mWo,r50_015_nWo],[r50_02_mBN,r50_02_nBN,r50_02_mWo,r50_02_nWo],
  [r50_025_mBN,r50_025_nBN,r50_025_mWo,r50_025_nWo],[r50_03_mBN,r50_03_nBN,r50_03_mWo,r50_03_nWo]
];

// ---------- layout (styling only) ----------
const FONT = "'Liberation Sans', Arial, Helvetica, sans-serif";
const TXT = '#262626';
const GRID = '#dfdfdf';
const COL_LEFT = [27,190,353,514,674,836];
const ROW_TOP = [16,153,291];
const PW = 150, PH = 102;

const boxPlugin = {
  id:'box',
  beforeDatasetsDraw(chart){
    const {ctx, chartArea:a} = chart;
    ctx.save();
    ctx.strokeStyle = '#333333'; ctx.lineWidth = 1.2;
    ctx.strokeRect(Math.round(a.left)+0.5, Math.round(a.top)+0.5, Math.round(a.right-a.left)-1, Math.round(a.bottom-a.top)-1);
    ctx.restore();
  }
};

const wrap = document.getElementById('wrap');
for (let r=0;r<3;r++){
  for (let c=0;c<6;c++){
    const idx = r*6+c;
    const AW = c===0 ? 27 : 14;
    const XH = r===2 ? 24 : 14;
    const TH = 12, PR = 12;
    const w = AW+PW+PR, h = TH+PH+XH;
    const cv = document.createElement('canvas');
    cv.width = w; cv.height = h;
    cv.style.left = (COL_LEFT[c]-AW)+'px';
    cv.style.top = (ROW_TOP[r]-TH)+'px';
    cv.style.width = w+'px'; cv.style.height = h+'px';
    wrap.appendChild(cv);
    new Chart(cv, {
      type:'line',
      data:{datasets: PANELS[idx].map((d,i)=>({
        label:SERIES_NAMES[i], data:d, borderColor:COLORS[i], backgroundColor:COLORS[i],
        borderWidth:1.9, pointRadius:0, pointHoverRadius:0, tension:0, order:4-i, clip:3,
        borderJoinStyle:'round', borderCapStyle:'round'
      }))},
      options:{
        responsive:false, animation:false, devicePixelRatio:1, events:[],
        layout:{padding:{left:0,right:PR,top:0,bottom:0}},
        plugins:{
          legend:{display:false}, tooltip:{enabled:false},
          title:{display:true, text:ROW_TITLES[r]+K_LABELS[c], fullSize:false, color:'#000',
                 font:{family:FONT, size:9.2, weight:'bold', lineHeight:'12px'}, padding:0}
        },
        scales:{
          x:{type:'linear', min:0, max:100,
             afterFit:s=>{s.height=XH;},
             ticks:{stepSize:X_TICK_STEP, padding:3.5, color:TXT, font:{family:FONT,size:9.5}, maxRotation:0, autoSkip:false},
             grid:{color:GRID, drawTicks:false, lineWidth:1}, border:{display:false},
             title:{display:r===2, text:'Epoch', color:TXT, font:{family:FONT,size:9.5}, padding:0}},
          y:{type:'linear', min:0, max:Y_MAX[idx],
             afterFit:s=>{s.width=AW;},
             ticks:{stepSize:1, padding:3, includeBounds:false, color:TXT, font:{family:FONT,size:9.5}},
             grid:{color:GRID, drawTicks:false, lineWidth:1}, border:{display:false},
             title:{display:c===0, text:'Loss value', color:TXT, font:{family:FONT,size:9.2}, padding:{top:6.6,bottom:0}}}
        }
      },
      plugins:[boxPlugin]
    });
  }
}

// ---------- legend ----------
const LEGEND_X = [3,82,177,269];
const lg = document.getElementById('legend');
SERIES_NAMES.forEach((n,i)=>{
  const d = document.createElement('div');
  d.className='li'; d.style.left = LEGEND_X[i]+'px';
  const s = document.createElement('span'); s.className='sw'; s.style.borderTopColor = COLORS[i];
  d.appendChild(s); d.appendChild(document.createTextNode(n));
  lg.appendChild(d);
});
</script>
</body></html>
